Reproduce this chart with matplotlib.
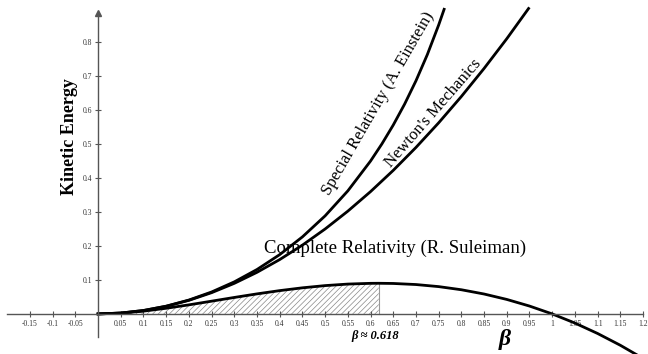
import matplotlib.pyplot as plt
from matplotlib.ticker import FixedLocator

# values (beta vs kinetic energy)
beta_newton = [0, 0.05, 0.1, 0.15, 0.2, 0.25, 0.3, 0.35, 0.4, 0.45, 0.5, 0.55, 0.6,
               0.65, 0.7, 0.75, 0.8, 0.85, 0.9, 0.948]
ke_newton = [0, 0.0025, 0.01, 0.0225, 0.04, 0.0625, 0.09, 0.1225, 0.16, 0.2025, 0.25,
             0.3025, 0.36, 0.4225, 0.49, 0.5625, 0.64, 0.7225, 0.81, 0.899]

beta_special = [0, 0.05, 0.1, 0.15, 0.2, 0.25, 0.3, 0.35, 0.4, 0.45, 0.5, 0.55, 0.6,
                0.625, 0.65, 0.675, 0.7, 0.725, 0.75, 0.762]
ke_special = [0, 0.0025, 0.01005, 0.02276, 0.04082, 0.06455, 0.09435, 0.13077, 0.17457,
              0.22676, 0.28868, 0.36221, 0.45, 0.5004, 0.55597, 0.61753, 0.68614,
              0.76316, 0.85042, 0.89658]

beta_complete = [0, 0.05, 0.1, 0.15, 0.2, 0.25, 0.3, 0.35, 0.4, 0.45, 0.5, 0.55, 0.6,
                 0.618, 0.65, 0.7, 0.75, 0.8, 0.85, 0.9, 0.95, 1.0, 1.05, 1.1, 1.15, 1.2]
ke_complete = [0, 0.00226, 0.00818, 0.01663, 0.02667, 0.0375, 0.04846, 0.05898, 0.06857,
               0.07681, 0.08333, 0.08782, 0.09, 0.09017, 0.08962, 0.08647, 0.08036,
               0.07111, 0.05858, 0.04263, 0.02314, 0, -0.02689, -0.05762, -0.09227,
               -0.13091]

beta_peak = 0.618

xticks = [-0.15, -0.1, -0.05, 0.05, 0.1, 0.15, 0.2, 0.25, 0.3, 0.35, 0.4, 0.45, 0.5,
          0.55, 0.6, 0.65, 0.7, 0.75, 0.8, 0.85, 0.9, 0.95, 1, 1.05, 1.1, 1.15, 1.2]
yticks = [0.1, 0.2, 0.3, 0.4, 0.5, 0.6, 0.7, 0.8]

plt.rcParams['font.family'] = ['Liberation Serif', 'DejaVu Serif']
plt.rcParams['hatch.linewidth'] = 0.5

fig = plt.figure(figsize=(6.48, 3.54), dpi=100)
ax = fig.add_axes([0, 0, 1, 1])
ax.set_xlim(-0.216, 1.211)
ax.set_ylim(-0.118, 0.924)

# axes through the origin
for s in ['top', 'right']:
    ax.spines[s].set_visible(False)
ax.spines['left'].set_position(('data', 0))
ax.spines['bottom'].set_position(('data', 0))
ax.spines['left'].set_bounds(-0.068, 0.89)
ax.spines['bottom'].set_bounds(-0.2, 1.2)
for s in ['left', 'bottom']:
    ax.spines[s].set_color('#555555')
    ax.spines[s].set_linewidth(1.0)
ax.plot(0, 0.885, marker='^', color='#555555', markersize=4, clip_on=False)

ax.xaxis.set_major_locator(FixedLocator(xticks))
ax.yaxis.set_major_locator(FixedLocator(yticks))
ax.set_xticklabels(['%g' % t for t in xticks])
ax.set_yticklabels(['%g' % t for t in yticks])
ax.tick_params(direction='inout', length=5, width=0.8, color='#555555',
               labelsize=5.5, labelcolor='#333333', pad=2)

# hatched area under the complete relativity curve
n = beta_complete.index(beta_peak) + 1
ax.fill_between(beta_complete[:n], 0, ke_complete[:n], facecolor='none',
                edgecolor='#888888', hatch='//////', linewidth=0)
ax.plot([beta_peak, beta_peak], [0, ke_complete[n - 1]], color='#999999', lw=0.8)

ax.plot(beta_newton, ke_newton, color='black', lw=2)
ax.plot(beta_special, ke_special, color='black', lw=2)
ax.plot(beta_complete, ke_complete, color='black', lw=2)

ax.text(0.617, 0.62, 'Special Relativity (A. Einstein)', rotation=60, fontsize=12,
        ha='center', va='center')
ax.text(0.738, 0.591, "Newton's Mechanics", rotation=49, fontsize=12,
        ha='center', va='center')
ax.text(0.655, 0.194, 'Complete Relativity (R. Suleiman)', fontsize=13.5,
        ha='center', va='center')
ax.text(0.61, -0.066, 'β ≈ 0.618', fontsize=9, fontweight='bold',
        fontstyle='italic', ha='center', va='center')
ax.text(0.896, -0.075, 'β', fontsize=17, fontweight='bold', fontstyle='italic',
        ha='center', va='center')
ax.text(-0.064, 0.523, 'Kinetic Energy', rotation=90, fontsize=13, fontweight='bold',
        ha='center', va='center')

fig.savefig('out.png', dpi=100)
